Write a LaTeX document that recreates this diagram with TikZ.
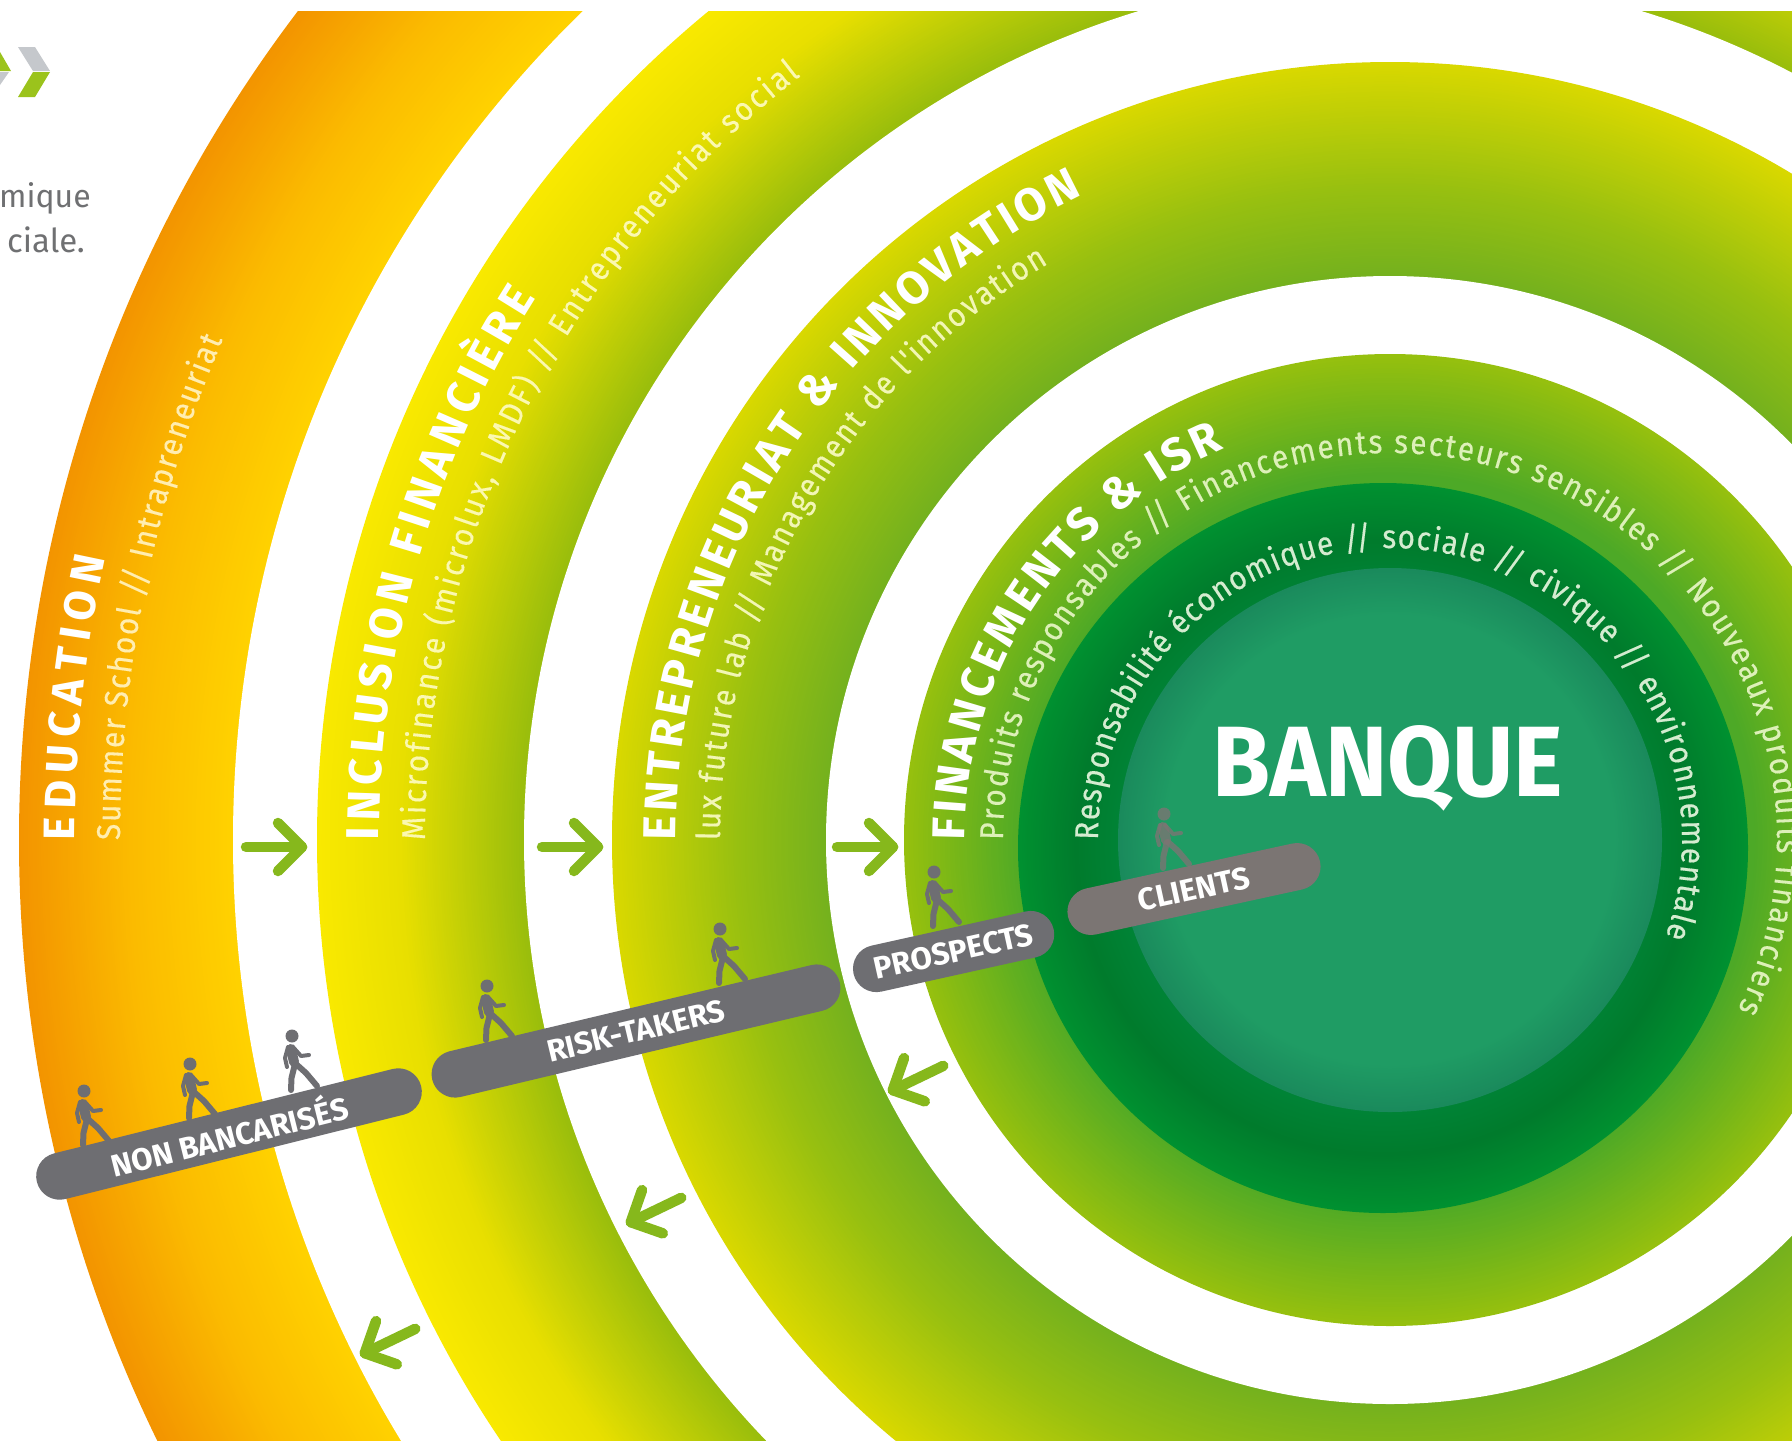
\documentclass[tikz,border=0pt]{standalone}
\usepackage{fontspec}
\setmainfont{Fira Sans}
\newfontfamily\narrowfam[FakeStretch=.9,FakeBold=.35]{Fira Sans}
\usetikzlibrary{decorations.text,shapes.misc}
\definecolor{ra}{HTML}{FFD200}\definecolor{rb}{HTML}{FBBB00}\definecolor{rc}{HTML}{F39400}
\definecolor{sa}{HTML}{98BD0C}\definecolor{sb}{HTML}{E8DF00}\definecolor{sc}{HTML}{F9E900}
\definecolor{ta}{HTML}{74B11E}\definecolor{tb}{HTML}{98C010}\definecolor{tc}{HTML}{D9D800}
\definecolor{ua}{HTML}{4DA927}\definecolor{ub}{HTML}{96C00E}
\definecolor{va}{HTML}{008437}\definecolor{vb}{HTML}{007B2C}\definecolor{vc}{HTML}{009130}
\definecolor{wa}{HTML}{1F9C64}\definecolor{wb}{HTML}{1A8A5C}
\definecolor{pillgrey}{HTML}{6E6E72}\definecolor{clientgrey}{HTML}{7B7573}\definecolor{inkgrey}{HTML}{6F7072}
\definecolor{arrowgreen}{HTML}{86B81C}\definecolor{logogrey}{HTML}{C5C8CC}\definecolor{logogreen}{HTML}{9BC31C}
\definecolor{subA}{HTML}{FFEDB0}\definecolor{subB}{HTML}{FBF8B0}\definecolor{subC}{HTML}{F2F6B5}
\definecolor{subD}{HTML}{DDF0B8}\definecolor{subE}{HTML}{D4ECD0}
% concentric discs from the outer radius to the inner one, blending two colours
\newcommand\gradring[5]{%
  \foreach \k in {0,1,...,50}{%
    \pgfmathsetmacro\rr{#2-(#2-#3)*\k/50}%
    \pgfmathsetmacro\pp{\k*2}%
    \fill[fill={#5!\pp!#4}] (#1) circle[radius=\rr pt];
  }%
}
\newcommand\fhead[1]{\fontsize{#1}{#1}\selectfont\bfseries\color{white}}
\newcommand\fsub[2]{\narrowfam\fontsize{#1}{#1}\selectfont\color{#2}}
\newcommand\arctext[5]{\path[decorate,decoration={text along path,text align={fit to path},text={|#4|#5}}]
  ([shift={(#2:#1)}]C) arc[start angle=#2,end angle=#3,radius=#1pt];}
\tikzset{
  x=1pt,y=1pt,
  pill/.style={rounded rectangle,fill=pillgrey,text=white,inner sep=0pt,minimum height=47pt,font=\fontsize{31}{31}\selectfont\bfseries},
  walker/.pic={
    \fill (0,56) circle[radius=6.5];
    \draw[line width=10,line cap=round] (-1,43) -- (2,30);
    \draw[line width=6,line cap=round,line join=round] (3,28) -- (-0.5,14) -- (-1,2);
    \draw[line width=6,line cap=round,line join=round] (4,28) -- (14,19) -- (25,6);
    \draw[line width=4,line cap=round,line join=round] (-4,45) -- (-7,34) -- (-5,25);
    \draw[line width=4,line cap=round,line join=round] (1,45) -- (9,36) -- (17,37);
  },
  greenarrow/.pic={
    \draw[arrowgreen,line width=10.5,line cap=round,line join=round] (-58,0) -- (-2,0);
    \draw[arrowgreen,line width=10.5,line cap=round,line join=round] (-26,24) -- (-2,0) -- (-26,-24);
  },
  walkgrey/.style={color=pillgrey},
  walkfade/.style={color=clientgrey,opacity=.8},
}
\begin{document}
\begin{tikzpicture}
\useasboundingbox (0,0) rectangle (1792,-1441);
\fill[white] (0,0) rectangle (1792,-1441);
\coordinate (C) at (1390,-840);
\coordinate (D) at (1383,-848);
\begin{scope}
\clip (0,-11) rectangle (1792,-1441);
\gradring{C}{1371}{1261}{rc}{rb}
\gradring{C}{1261}{1157}{rb}{ra}
\fill[white] (C) circle[radius=1157pt];
\gradring{C}{1073}{990}{sc}{sb}
\gradring{C}{990}{866}{sb}{sa}
\fill[white] (C) circle[radius=866pt];
\gradring{C}{778}{654}{tc}{tb}
\gradring{C}{654}{564}{tb}{ta}
\fill[white] (C) circle[radius=564pt];
\gradring{C}{486}{365}{ub}{ua}
\gradring{D}{365}{307}{vc}{vb}
\gradring{D}{307}{260}{vb}{va}
\gradring{C}{272}{225}{wb}{wa}
\end{scope}
% logo
\fill[logogrey] (18,-47) -- (35,-47) -- (50,-71) -- (33,-71) -- cycle;
\fill[logogreen] (33,-72) -- (50,-72) -- (35,-97) -- (18,-97) -- cycle;
\fill[logogreen] (0,-52) -- (11,-71) -- (0,-71) -- cycle;
\fill[logogrey] (0,-72) -- (9,-72) -- (0,-85) -- cycle;
% cut-off text
\node[anchor=base east,inner sep=0pt,text=inkgrey,font=\fontsize{32}{32}\selectfont] (tone) at (91,-207) {mique};
\node[anchor=base east,inner sep=0pt,text=inkgrey,font=\fontsize{33}{33}\selectfont] (ttwo) at (85,-252) {ciale.};
% ring texts
\arctext{1315}{180}{167.6}{\fhead{44}}{EDUCATION}
\arctext{1270}{180}{156.8}{\fsub{33}{subA}}{Summer School {//} Intrapreneuriat}
\arctext{1011}{180}{147.6}{\fhead{46}}{INCLUSION FINANCIÈRE}
\arctext{965}{180}{127.7}{\fsub{33}{subB}}{Microfinance (microlux, LMDF) {//} Entrepreneuriat social}
\arctext{714}{180}{115.5}{\fhead{46}}{ENTREPRENEURIAT {\&} INNOVATION}
\arctext{670}{180}{120.7}{\fsub{33}{subC}}{lux future lab {//} Management de l'innovation}
\arctext{425}{180}{112.9}{\fhead{46}}{FINANCEMENTS {\&} ISR}
\arctext{387}{180}{-26}{\fsub{33}{subD}}{Produits responsables {//} Financements secteurs sensibles {//} Nouveaux produits financiers}
\arctext{292}{180}{-19.3}{\fsub{33}{subE}}{Responsabilité économique {//} sociale {//} civique {//} environnementale}
\node[text=white,font=\fontsize{100}{100}\selectfont\bfseries,xscale=.94,inner sep=0pt] (banque) at (1388,-768) {BANQUE};
% arrows
\pic at (304,-847) {greenarrow};
\pic at (600,-847) {greenarrow};
\pic at (895,-847) {greenarrow};
\pic[rotate=205.7] at (891,-1091) {greenarrow};
\pic[rotate=205.7] at (629,-1223) {greenarrow};
\pic[rotate=205.7] at (363,-1354) {greenarrow};
% pills
\node[pill,rotate=14,minimum width=396pt] (nb) at (229,-1134) {NON BANCARISÉS};
\node[pill,rotate=13.4,minimum width=419pt] (rt) at (636,-1031) {RISK-TAKERS};
\node[pill,rotate=12.5,minimum width=205pt] (pr) at (953.6,-951.5) {PROSPECTS};
\node[pill,rotate=12.3,minimum width=258pt,fill=clientgrey] (cl) at (1194,-889) {CLIENTS};
% walkers
\pic[walkgrey] at (84,-1147) {walker};
\pic[walkgrey] at (190,-1120) {walker};
\pic[walkgrey] at (292,-1092) {walker};
\pic[walkgrey] at (487,-1042) {walker};
\pic[walkgrey] at (720,-985) {walker};
\pic[walkgrey] at (934,-928) {walker};
\pic[walkfade] at (1164,-870) {walker};
\end{tikzpicture}
\end{document}
